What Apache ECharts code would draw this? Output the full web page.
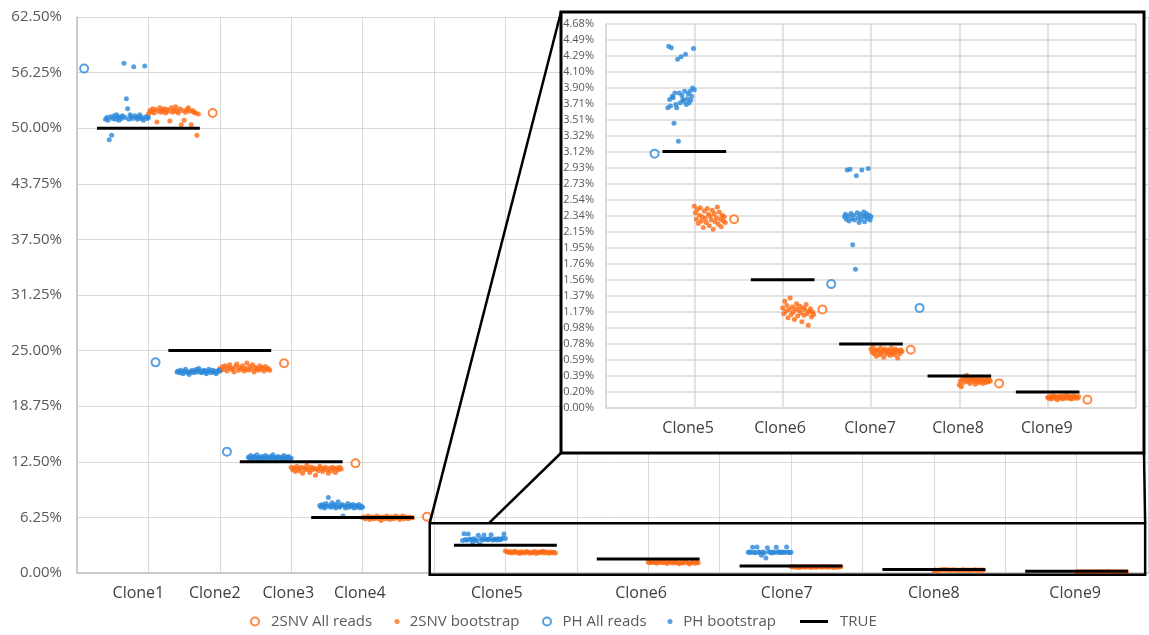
<!DOCTYPE html>
<html><head><meta charset="utf-8">
<script src="https://cdn.jsdelivr.net/npm/echarts@6/dist/echarts.min.js"></script>
<style>html,body{margin:0;padding:0;background:#fff}#c{width:1149px;height:635px}</style>
</head><body><div id="c"></div>
<script>
// ---------- data ----------
const categories = ['Clone1','Clone2','Clone3','Clone4','Clone5','Clone6','Clone7','Clone8','Clone9'];
const clonePos = [1, 2, 3, 4, 6, 8, 10, 12, 14];
const mainLabelPos = [0.86, 1.93, 2.96, 3.96, 5.88, 7.9, 9.94, 12.0, 13.98];
const insetLabelPos = [5.86, 7.94, 9.98, 11.97, 13.98];
const trueVals = [50, 25, 12.5, 6.25, 3.125, 1.5625, 0.78125, 0.390625, 0.1953125];
const snvAllReads = [51.7, 23.57, 12.33, 6.33, 2.30, 1.20, 0.71, 0.30, 0.10];
const phAllReads = [56.7, 23.68, 13.64, null, 3.10, null, 1.51, 1.22, null];

const snvBoot1 = [51.6,52.0,51.8,52.2,51.7,52.1,50.7,51.9,52.3,51.8,52.0,52.2,51.7,52.1,51.9,50.8,52.3,51.8,52.0,52.4,51.9,51.7,52.2,50.4,52.0,50.9,51.8,52.1,52.3,51.9,50.4,52.0,51.8,51.7,49.2,51.6];
const snvBoot2 = [23.0,22.8,23.2,22.9,23.3,22.7,23.1,23.4,22.9,23.0,22.6,23.2,23.5,22.8,23.1,22.9,23.3,22.7,23.0,23.6,22.8,23.2,22.9,23.4,22.6,23.1,23.0,22.8,23.3,22.9,23.1,22.7,23.2,22.9,23.0,22.8];
const snvBoot3 = [11.9,11.6,11.8,11.4,12.0,11.7,11.5,11.9,11.2,11.8,11.6,12.1,11.7,11.3,11.9,11.6,11.8,11.0,11.7,11.5,12.0,11.8,11.4,11.7,11.9,11.6,11.2,11.8,11.5,11.9,11.7,11.3,11.8,11.6,11.9,11.7];
const snvBoot4 = [6.2,6.3,6.1,6.2,6.4,6.0,6.2,6.3,6.1,6.2,6.4,6.1,6.3,5.9,6.2,6.3,6.1,6.4,6.2,6.0,6.3,6.2,6.1,6.4,6.2,6.3,6.0,6.2,6.4,6.1,6.3,6.2,6.1,6.3,6.2,6.2];
const snvBoot5 = [2.46,2.38,2.30,2.42,2.25,2.35,2.44,2.28,2.33,2.20,2.40,2.31,2.26,2.43,2.36,2.22,2.34,2.29,2.41,2.18,2.37,2.27,2.32,2.45,2.24,2.39,2.30,2.21,2.35,2.28,2.33,2.26];
const snvBoot6 = [1.22,1.15,1.30,1.18,1.25,1.10,1.20,1.34,1.14,1.23,1.17,1.08,1.21,1.27,1.12,1.19,1.24,1.16,1.05,1.22,1.13,1.20,1.26,1.15,1.01,1.18,1.21,1.11,1.17,1.14];
const snvBoot7 = [0.72,0.68,0.74,0.66,0.70,0.63,0.71,0.69,0.65,0.73,0.67,0.70,0.62,0.72,0.68,0.66,0.71,0.69,0.64,0.73,0.67,0.70,0.65,0.72,0.68,0.61,0.70,0.66,0.71,0.69];
const snvBoot8 = [0.28,0.33,0.26,0.35,0.31,0.38,0.34,0.40,0.32,0.36,0.30,0.34,0.37,0.32,0.35,0.29,0.33,0.36,0.31,0.34,0.32,0.35,0.30,0.33,0.36,0.31,0.34,0.32,0.35,0.33];
const snvBoot9 = [0.13,0.12,0.14,0.11,0.13,0.15,0.12,0.14,0.13,0.10,0.14,0.12,0.13,0.15,0.11,0.13,0.14,0.12,0.16,0.13,0.12,0.14,0.11,0.13,0.15,0.12,0.14,0.13,0.12,0.14];

const phBoot1 = [51.0,51.2,50.9,48.7,51.3,49.2,51.1,51.4,51.0,51.5,51.2,50.9,51.3,51.1,51.4,57.3,51.2,53.3,52.2,51.0,51.5,51.3,51.1,56.9,51.4,51.2,51.0,51.3,51.5,51.1,51.2,50.9,57.0,51.3,51.1,51.2];
const phBoot2 = [22.6,22.7,22.5,22.8,22.6,22.4,22.7,22.9,22.6,22.5,22.3,22.7,22.6,22.8,22.5,22.7,22.9,22.6,23.0,22.7,22.5,22.6,22.8,22.7,22.4,22.6,22.9,22.7,22.5,22.8,22.6,22.7,22.4,22.6,22.8,22.7];
const phBoot3 = [13.0,12.9,13.2,12.8,13.0,13.1,12.9,13.3,12.8,13.0,12.9,13.1,12.7,13.0,13.2,12.9,13.0,12.8,13.1,12.9,13.3,13.0,12.8,12.9,13.1,13.0,12.7,13.0,12.9,13.2,12.8,13.0,12.9,13.1,12.8,12.9];
const phBoot4 = [7.6,7.4,7.7,7.5,7.3,7.8,7.5,8.5,7.6,7.4,7.9,7.5,7.7,7.3,7.6,8.0,7.4,7.5,7.7,6.4,7.6,7.3,7.5,7.8,7.4,7.6,7.5,7.7,7.3,7.6,7.4,7.5,7.7,7.3,7.5,7.4];
const phBoot5 = [3.66,4.41,3.76,3.68,4.39,3.80,3.78,3.47,3.84,3.70,3.66,4.25,3.25,3.84,3.72,4.28,3.81,3.76,3.74,3.86,4.31,3.70,3.77,3.83,3.72,3.86,3.75,3.80,3.90,4.38,3.88];
const phBoot6 = [];
const phBoot7 = [2.33,2.36,2.30,2.90,2.34,2.28,2.91,2.37,2.31,1.99,2.35,2.29,1.69,2.83,2.38,2.32,2.26,2.36,2.30,2.90,2.34,2.39,2.27,2.33,2.37,2.31,2.92,2.35,2.29,2.33];
const phBoot8 = [];
const phBoot9 = [];

const snvBoot = [snvBoot1,snvBoot2,snvBoot3,snvBoot4,snvBoot5,snvBoot6,snvBoot7,snvBoot8,snvBoot9];
const phBoot = [phBoot1,phBoot2,phBoot3,phBoot4,phBoot5,phBoot6,phBoot7,phBoot8,phBoot9];

const mainYTicks = ['0.00%','6.25%','12.50%','18.75%','25.00%','31.25%','37.50%','43.75%','50.00%','56.25%','62.50%'];
const insetYTicks = ['0.00%','0.20%','0.39%','0.59%','0.78%','0.98%','1.17%','1.37%','1.56%','1.76%','1.95%','2.15%','2.34%','2.54%','2.73%','2.93%','3.12%','3.32%','3.51%','3.71%','3.90%','4.10%','4.29%','4.49%','4.68%'];

// ---------- styles ----------
const ORANGE = '#FF6A13', BLUE = '#2C88DA';
const FONT = 'Open Sans';
const GRID_C = '#D9D9D9';

function spread(center, lo, hi, vals) {
  const n = vals.length;
  return vals.map((v, i) => [center + lo + (n > 1 ? (hi - lo) * i / (n - 1) : 0), v]);
}
function bootData(arrs, idxs, lo, hi) {
  let out = [];
  idxs.forEach(i => { out = out.concat(spread(clonePos[i], lo, hi, arrs[i])); });
  return out;
}
function allData(arr, idxs, off) {
  return idxs.filter(i => arr[i] != null).map(i => [clonePos[i] + off, arr[i]]);
}
function trueData(idxs) {
  return idxs.map(i => [clonePos[i] - 0.72, clonePos[i] + 0.72, trueVals[i]]);
}
const mainIdx = [0,1,2,3,4,5,6,7,8];
const mainCircleIdx = [0,1,2,3];
const insetIdx = [4,5,6,7,8];

function renderTrue(params, api) {
  const a = api.coord([api.value(0), api.value(2)]);
  const b = api.coord([api.value(1), api.value(2)]);
  return { type: 'line', shape: { x1: a[0], y1: a[1], x2: b[0], y2: b[1] },
           style: { stroke: '#000', lineWidth: 3 } };
}
function nearestLabel(posArr, names, v) {
  let best = 0, d = 1e9;
  posArr.forEach((p, i) => { if (Math.abs(p - v) < d) { d = Math.abs(p - v); best = i; } });
  return names[best];
}

function makeSeries(idxs, circleIdx, ax, z) {
  return [
    { name: '2SNV All reads', type: 'scatter', xAxisIndex: ax, yAxisIndex: ax, z: z,
      symbol: 'emptyCircle', symbolSize: 8, itemStyle: { color: ORANGE, borderWidth: 2 },
      data: allData(snvAllReads, circleIdx, 0.9), silent: true },
    { name: '2SNV bootstrap', type: 'scatter', xAxisIndex: ax, yAxisIndex: ax, z: z,
      symbol: 'circle', symbolSize: 5, itemStyle: { color: ORANGE },
      data: bootData(snvBoot, idxs, 0, 0.7), silent: true },
    { name: 'PH All reads', type: 'scatter', xAxisIndex: ax, yAxisIndex: ax, z: z,
      symbol: 'emptyCircle', symbolSize: 8, itemStyle: { color: BLUE, borderWidth: 2 },
      data: allData(phAllReads, circleIdx, -0.9), silent: true },
    { name: 'PH bootstrap', type: 'scatter', xAxisIndex: ax, yAxisIndex: ax, z: z,
      symbol: 'circle', symbolSize: 5, itemStyle: { color: BLUE },
      data: bootData(phBoot, idxs, -0.6, 0), silent: true },
    { name: 'TRUE', type: 'custom', xAxisIndex: ax, yAxisIndex: ax, z: z + 1,
      itemStyle: { color: '#000' }, renderItem: renderTrue,
      encode: { x: [0, 1], y: 2 }, data: trueData(idxs), silent: true }
  ];
}

const legendText = { fontFamily: FONT, fontSize: 15, color: '#595959' };
function legendItem(name, left, w, h, extra) {
  return Object.assign({ data: [name], left: left, top: 614, itemWidth: w, itemHeight: h,
    selectedMode: false, textStyle: legendText, padding: 0 }, extra || {});
}

const chart = echarts.init(document.getElementById('c'), null, { renderer: 'canvas' });
const option = {
  animation: false,
  backgroundColor: '#fff',
  textStyle: { fontFamily: FONT },
  grid: [
    { left: 77, top: 17, right: 1, bottom: 62, outerBoundsMode: 'none', containLabel: false },
    { left: 606, top: 24, right: 13, bottom: 227, outerBoundsMode: 'none', containLabel: false, z: 11 }
  ],
  xAxis: [
    { type: 'value', gridIndex: 0, min: 0, max: 15, interval: 1,
      axisLine: { show: true, lineStyle: { color: '#BFBFBF', width: 1.5 } },
      axisTick: { show: false },
      splitLine: { show: true, lineStyle: { color: GRID_C, width: 1 } },
      axisLabel: { customValues: mainLabelPos, margin: 12, fontSize: 16, color: '#404040', fontFamily: FONT,
        formatter: v => nearestLabel(mainLabelPos, categories, v) } },
    { type: 'value', gridIndex: 1, min: 4, max: 16, interval: 2, z: 11,
      axisLine: { show: true, lineStyle: { color: GRID_C, width: 1.5 } },
      axisTick: { show: false },
      splitLine: { show: true, lineStyle: { color: GRID_C, width: 1.5 } },
      axisLabel: { customValues: insetLabelPos, margin: 12, fontSize: 16, color: '#404040', fontFamily: FONT,
        formatter: v => nearestLabel(insetLabelPos, categories.slice(4), v) } }
  ],
  yAxis: [
    { type: 'value', gridIndex: 0, min: 0, max: 62.5, interval: 6.25,
      axisLine: { show: true, lineStyle: { color: '#BFBFBF', width: 1.5 } },
      axisTick: { show: false },
      splitLine: { show: true, lineStyle: { color: GRID_C, width: 1 } },
      axisLabel: { margin: 15, fontSize: 15, color: '#595959', fontFamily: FONT,
        formatter: v => mainYTicks[Math.round(v / 6.25)] } },
    { type: 'value', gridIndex: 1, min: 0, max: 4.68, interval: 0.195, z: 11,
      axisLine: { show: true, lineStyle: { color: GRID_C, width: 1.5 } },
      axisTick: { show: false },
      splitLine: { show: true, lineStyle: { color: GRID_C, width: 1.5 } },
      axisLabel: { margin: 12, fontSize: 11, color: '#595959', fontFamily: FONT,
        formatter: v => insetYTicks[Math.round(v / 0.195)] } }
  ],
  legend: [
    legendItem('2SNV All reads', 250, 22, 8),
    legendItem('2SNV bootstrap', 394.5, 15.5, 5),
    legendItem('PH All reads', 542, 21, 8),
    legendItem('PH bootstrap', 667.5, 16.5, 5),
    legendItem('TRUE', 800, 28, 3, { icon: 'rect', textStyle: Object.assign({}, legendText, { padding: [0, 0, 0, 7] }) })
  ],
  series: [].concat(makeSeries(mainIdx, mainCircleIdx, 0, 2), makeSeries(insetIdx, insetIdx, 1, 12))
};
chart.setOption(option);

// ---------- decorations (zoom frames), located from the axes ----------
const px = (g, x, y) => chart.convertToPixel({ gridIndex: g }, [x, y]);
const insTL = px(1, 4, 4.68), insBR = px(1, 16, 0);
const frame = { x1: insTL[0] - 45, y1: insTL[1] - 12, x2: insBR[0] + 8, y2: insBR[1] + 45 };
const boxTL = px(0, 4.94, 5.6), boxBR = px(0, 14.96, -0.2);
const boxJoin = px(0, 5.77, 5.6);
const K = { stroke: '#000', lineWidth: 2.5, fill: null };
chart.setOption({
  graphic: { elements: [
    { type: 'rect', z: 10, silent: true,
      shape: { x: frame.x1, y: frame.y1, width: frame.x2 - frame.x1, height: frame.y2 - frame.y1 },
      style: { fill: '#fff', stroke: '#000', lineWidth: 3 } },
    { type: 'rect', z: 30, silent: true,
      shape: { x: boxTL[0], y: boxTL[1], width: boxBR[0] - boxTL[0], height: boxBR[1] - boxTL[1] },
      style: K },
    { type: 'line', z: 30, silent: true, shape: { x1: boxTL[0], y1: boxTL[1], x2: frame.x1, y2: frame.y1 }, style: K },
    { type: 'line', z: 30, silent: true, shape: { x1: boxJoin[0], y1: boxJoin[1], x2: frame.x1, y2: frame.y2 }, style: K },
    { type: 'line', z: 30, silent: true, shape: { x1: frame.x2, y1: frame.y2, x2: boxBR[0], y2: boxTL[1] }, style: K }
  ] }
});
</script></body></html>
